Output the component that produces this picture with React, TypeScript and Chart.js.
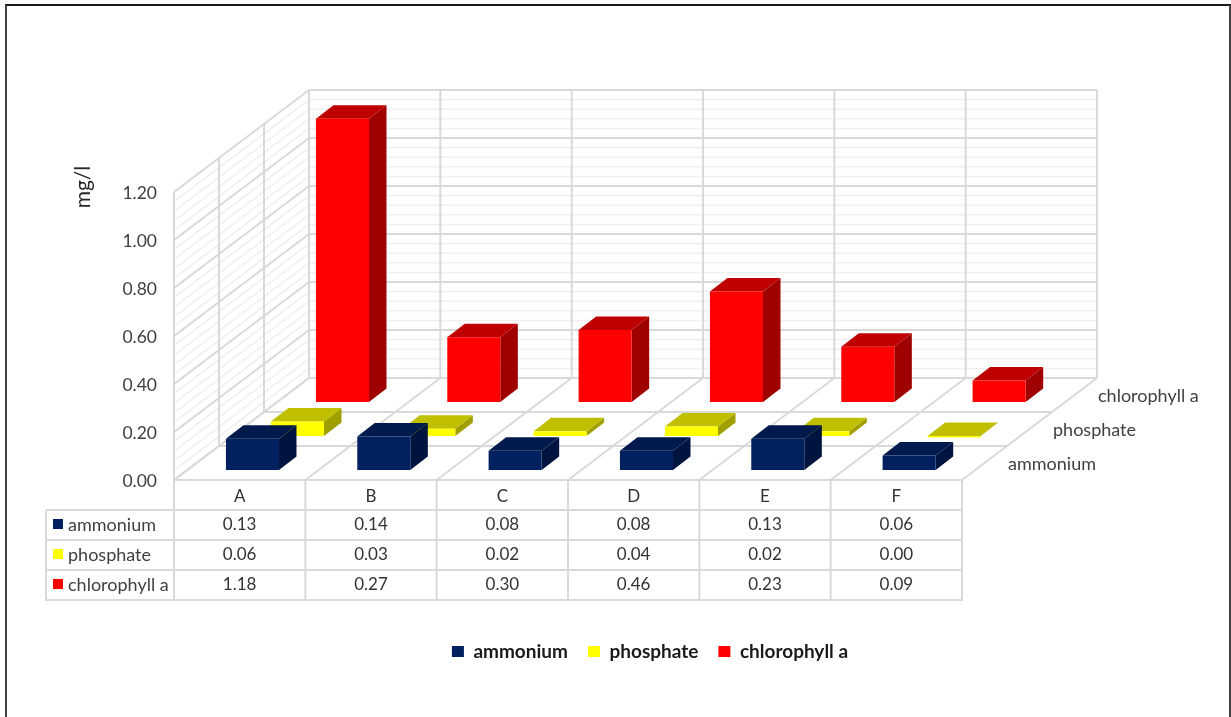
import React, { useEffect, useRef } from "react";
import { Chart, BarController, registerables } from "chart.js";

const categories = ["A", "B", "C", "D", "E", "F"];
const seriesNames = ["ammonium", "phosphate", "chlorophyll a"];
const ammonium = [0.13, 0.14, 0.08, 0.08, 0.13, 0.06];
const phosphate = [0.06, 0.03, 0.02, 0.04, 0.02, 0.0];
const chlorophyll = [1.18, 0.27, 0.3, 0.46, 0.23, 0.09];
const seriesValues = [ammonium, phosphate, chlorophyll];
const frontColors = ["#002060", "#ffff00", "#ff0000"];
const topColors = ["#001a4d", "#bfbf00", "#bf0000"];
const sideColors = ["#001440", "#9f9f00", "#9f0000"];

const FONT = "Lato, Carlito, sans-serif";
const TEXT = "#404040";
const MAJOR = "#d9d9d9";
const MINOR = "#efefef";
const MINOR_STEP = 0.04;
const ROW_DX = 45;
const ROW_DY = 34;
const BOX_DX = 17.5;
const BOX_DY = 13.5;
const ROW_PAD_DX = 12.8;
const ROW_PAD_DY = 10;
const ROW_H = 30;
const TABLE_LEFT = 46;

function line(ctx: CanvasRenderingContext2D, x1: number, y1: number, x2: number, y2: number) {
  ctx.beginPath();
  ctx.moveTo(x1, y1);
  ctx.lineTo(x2, y2);
  ctx.stroke();
}

function poly(ctx: CanvasRenderingContext2D, color: string, pts: number[][]) {
  ctx.fillStyle = color;
  ctx.beginPath();
  pts.forEach(([x, y], i) => (i ? ctx.lineTo(x, y) : ctx.moveTo(x, y)));
  ctx.closePath();
  ctx.fill();
}

// Bar controller that extrudes each bar into a box, set back by its series row.
class Box3DController extends BarController {
  static id = "box3d";
  draw() {
    const ctx = this.chart.ctx;
    const row = this.index;
    const elements = this.getMeta().data as any[];
    ctx.save();
    elements.forEach((el) => {
      const { x, y, base, width } = el.getProps(["x", "y", "base", "width"], true);
      const l = x - width / 2 + ROW_PAD_DX + ROW_DX * row;
      const r = l + width;
      const b = base - ROW_PAD_DY - ROW_DY * row;
      const t = y - ROW_PAD_DY - ROW_DY * row;
      poly(ctx, sideColors[row], [[r, t], [r + BOX_DX, t - BOX_DY], [r + BOX_DX, b - BOX_DY], [r, b]]);
      poly(ctx, topColors[row], [[l, t], [l + BOX_DX, t - BOX_DY], [r + BOX_DX, t - BOX_DY], [r, t]]);
      poly(ctx, frontColors[row], [[l, t], [r, t], [r, Math.max(b, t + 1.5)], [l, Math.max(b, t + 1.5)]]);
    });
    ctx.restore();
  }
}

Chart.register(...registerables, Box3DController as any);

// Walls and floor of the 3D box, laid out from the value and category scales.
const wallsPlugin = {
  id: "walls",
  beforeDatasetsDraw(chart: any) {
    const { ctx, chartArea, scales } = chart;
    const { left, right, bottom } = chartArea;
    const yS = scales.y;
    const top = yS.getPixelForValue(yS.max);
    const rows = seriesNames.length;
    const dx = ROW_DX * rows;
    const dy = ROW_DY * rows;
    const cats = categories.length;
    ctx.save();
    ctx.lineCap = "butt";

    ctx.strokeStyle = MINOR;
    ctx.lineWidth = 1.5;
    const minorCount = Math.round(yS.max / MINOR_STEP);
    for (let i = 1; i < minorCount; i++) {
      const py = yS.getPixelForValue(i * MINOR_STEP);
      line(ctx, left, py, left + dx, py - dy);
      line(ctx, left + dx, py - dy, right + dx, py - dy);
    }

    ctx.strokeStyle = MAJOR;
    ctx.lineWidth = 2;
    yS.ticks.forEach((tick: any) => {
      const py = yS.getPixelForValue(tick.value);
      line(ctx, left, py, left + dx, py - dy);
      line(ctx, left + dx, py - dy, right + dx, py - dy);
    });
    // Depth divisions on the left wall and across the floor
    for (let r = 0; r <= rows; r++) {
      const ox = ROW_DX * r;
      const oy = ROW_DY * r;
      line(ctx, left + ox, bottom - oy, left + ox, top - oy);
      line(ctx, left + ox, bottom - oy, right + ox, bottom - oy);
    }
    // Category divisions on the floor and the back wall
    const colW = (right - left) / cats;
    for (let c = 0; c <= cats; c++) {
      const cx = left + colW * c;
      line(ctx, cx, bottom, cx + dx, bottom - dy);
      line(ctx, cx + dx, bottom - dy, cx + dx, top - dy);
    }

    // Series names along the right edge of the floor
    ctx.fillStyle = TEXT;
    ctx.font = `18px ${FONT}`;
    ctx.textAlign = "left";
    ctx.textBaseline = "middle";
    seriesNames.forEach((name, r) => {
      ctx.fillText(name, right + ROW_DX * (r + 1) + 1, bottom - ROW_DY * r - 16);
    });
    ctx.restore();
  },
  afterDraw(chart: any) {
    const { ctx, chartArea, scales } = chart;
    const { left, right, bottom } = chartArea;
    const cats = categories.length;
    const colW = (right - left) / cats;
    const tableBottom = bottom + ROW_H * (seriesNames.length + 1);
    ctx.save();

    // Data table beneath the floor
    ctx.strokeStyle = MAJOR;
    ctx.lineWidth = 2;
    for (let c = 0; c <= cats; c++) {
      line(ctx, left + colW * c, bottom, left + colW * c, tableBottom);
    }
    for (let r = 1; r <= seriesNames.length + 1; r++) {
      const ly = bottom + ROW_H * r;
      line(ctx, TABLE_LEFT, ly, right + 1, ly);
    }
    line(ctx, TABLE_LEFT, bottom + ROW_H, TABLE_LEFT, tableBottom + 1);

    ctx.textBaseline = "middle";
    seriesNames.forEach((name, r) => {
      const cy = bottom + ROW_H * (r + 1.5);
      ctx.fillStyle = frontColors[r];
      ctx.fillRect(TABLE_LEFT + 7, cy - 6, 10, 10);
      ctx.fillStyle = TEXT;
      ctx.textAlign = "left";
      ctx.font = `18px ${FONT}`;
      ctx.fillText(name, TABLE_LEFT + 22, cy);
      ctx.fillStyle = "#333333";
      ctx.textAlign = "center";
      ctx.font = `17px ${FONT}`;
      seriesValues[r].forEach((v, c) => {
        ctx.fillText(v.toFixed(2), scales.x.getPixelForValue(c), cy);
      });
    });

    // Value axis unit
    ctx.save();
    ctx.translate(83, 187);
    ctx.rotate(-Math.PI / 2);
    ctx.font = `21px ${FONT}`;
    ctx.fillStyle = "#262626";
    ctx.textAlign = "center";
    ctx.fillText("mg/l", 0, 0);
    ctx.restore();

    // Outer frame
    ctx.strokeStyle = "#1a1a1a";
    ctx.lineWidth = 2;
    line(ctx, 5, 5, 1231, 5);
    ctx.strokeStyle = "#404040";
    line(ctx, 6, 5, 6, 717);
    line(ctx, 1230, 5, 1230, 717);
    ctx.restore();
  },
};

export default function App() {
  const ref = useRef<HTMLCanvasElement>(null);
  useEffect(() => {
    const chart = new Chart(ref.current as HTMLCanvasElement, {
      type: "box3d" as any,
      plugins: [wallsPlugin],
      data: {
        labels: categories,
        datasets: seriesNames.map((name, i) => ({
          label: name,
          data: seriesValues[i],
          backgroundColor: frontColors[i],
          borderWidth: 0,
          grouped: false,
          barPercentage: 1,
          categoryPercentage: 0.404,
          clip: false as any,
          yAxisID: "y",
        })),
      },
      options: {
        responsive: false,
        animation: false,
        layout: { padding: { top: 192, left: 70, right: 1, bottom: 46 } },
        scales: {
          x: {
            grid: { display: false, drawTicks: false },
            border: { display: false },
            ticks: { color: "#333333", font: { family: FONT, size: 17 }, padding: 6 },
            afterFit(scale: any) {
              scale.height = 142;
            },
          },
          y: {
            min: 0,
            max: 1.2,
            grid: { display: false, drawTicks: false },
            border: { display: false },
            ticks: {
              stepSize: 0.2,
              color: TEXT,
              font: { family: FONT, size: 17.5 },
              padding: 17,
              labelOffset: 1.5,
              callback: (v: any) => Number(v).toFixed(2),
            },
            afterFit(scale: any) {
              scale.width = 104;
            },
          },
          // Empty right-hand axis that keeps room for the box's depth and series names
          depth: {
            type: "linear",
            position: "right",
            grid: { display: false, drawTicks: false },
            border: { display: false },
            ticks: { display: false },
            afterFit(scale: any) {
              scale.width = 268;
            },
          },
        },
        plugins: {
          title: { display: false },
          tooltip: { enabled: false },
          legend: {
            position: "bottom",
            labels: {
              boxWidth: 12,
              boxHeight: 11,
              padding: 20,
              color: "#1a1a1a",
              font: { family: FONT, size: 19, weight: "bold" },
            },
          },
        },
      } as any,
    });
    return () => chart.destroy();
  }, []);
  return (
    <div style={{ position: "absolute", left: 0, top: 0, width: 1231, height: 717, background: "#fff" }}>
      <canvas ref={ref} width={1231} height={717} style={{ display: "block" }} />
    </div>
  );
}
